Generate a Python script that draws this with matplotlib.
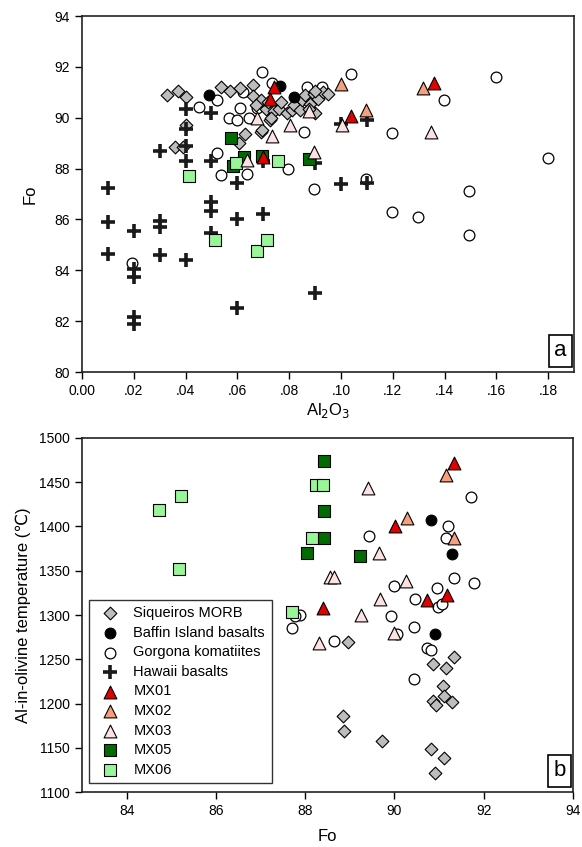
import numpy as np
import matplotlib
matplotlib.use("Agg")
import matplotlib.pyplot as plt

plt.rcParams['font.family'] = ['Liberation Sans', 'DejaVu Sans']

# ---------------- panel a : Al2O3 vs Fo ----------------
siq_al = [0.033, 0.037, 0.040, 0.040, 0.036, 0.039, 0.0535, 0.057, 0.061, 0.066,
          0.066, 0.069, 0.0725, 0.0725, 0.069, 0.063, 0.0605, 0.067, 0.071, 0.072,
          0.074, 0.076, 0.077, 0.079, 0.081, 0.082, 0.084, 0.085, 0.086, 0.088,
          0.0895, 0.091, 0.093, 0.095, 0.090, 0.090, 0.0875, 0.0695, 0.073]
siq_fo_a = [90.9, 91.05, 90.8, 89.7, 88.85, 88.85, 91.2, 91.05, 91.15, 91.3,
            90.85, 90.7, 90.3, 89.9, 89.45, 89.35, 89.0, 90.5, 90.35, 90.6,
            90.25, 90.35, 90.6, 90.2, 90.3, 90.5, 90.3, 90.7, 90.9, 90.55,
            90.95, 90.75, 91.0, 90.95, 90.2, 91.05, 90.35, 89.5, 90.0]

baf_al = [0.049, 0.0766, 0.0818]
baf_fo_a = [90.9, 91.25, 90.8]

gor_al = [0.0695, 0.0733, 0.0523, 0.045, 0.0566, 0.0597, 0.061, 0.0643, 0.0674, 0.062,
          0.0857, 0.0523, 0.0535, 0.0636, 0.0795, 0.0895, 0.0868, 0.0925, 0.0876, 0.1037,
          0.1196, 0.1397, 0.160, 0.180, 0.1096, 0.1496, 0.1196, 0.1296, 0.1496, 0.0194]
gor_fo_a = [91.8, 91.35, 90.7, 90.42, 90.0, 89.93, 90.4, 89.97, 90.4, 91.0,
            89.42, 88.62, 87.75, 87.8, 88.0, 87.2, 91.2, 91.2, 90.8, 91.7,
            89.4, 90.7, 91.6, 88.4, 87.6, 87.1, 86.3, 86.1, 85.4, 84.3]

haw_al = [0.01, 0.01, 0.01, 0.02, 0.02, 0.02, 0.02, 0.02, 0.03, 0.03,
          0.03, 0.04, 0.05, 0.05, 0.05, 0.06, 0.06, 0.07, 0.09, 0.06,
          0.03, 0.04, 0.04, 0.04, 0.04, 0.05, 0.05, 0.07, 0.09, 0.10,
          0.11, 0.11, 0.10]
haw_fo = [87.25, 85.9, 84.65, 85.55, 84.05, 83.75, 82.15, 81.9, 85.95, 85.7,
          84.6, 84.4, 86.7, 86.35, 85.45, 86.0, 82.5, 86.2, 83.1, 87.45,
          88.7, 90.35, 89.55, 88.9, 88.3, 90.2, 88.3, 88.3, 88.2, 87.4,
          87.45, 89.9, 89.75]

mx01_al = [0.074, 0.0725, 0.070, 0.136, 0.104]
mx01_fo_a = [91.2, 90.75, 88.45, 91.35, 90.05]
mx02_al = [0.100, 0.1318, 0.1096]
mx02_fo_a = [91.34, 91.17, 90.31]
mx03_al = [0.0676, 0.0805, 0.0734, 0.0637, 0.0895, 0.0876, 0.1005, 0.1347]
mx03_fo_a = [90.0, 89.73, 89.3, 88.35, 88.65, 90.28, 89.7, 89.43]
mx05_al = [0.0575, 0.0585, 0.0624, 0.0695, 0.0876]
mx05_fo_a = [89.2, 88.1, 88.45, 88.5, 88.37]
mx06_al = [0.0415, 0.0596, 0.0756, 0.0514, 0.0676, 0.0714]
mx06_fo_a = [87.7, 88.2, 88.3, 85.2, 84.75, 85.2]

# ---------------- panel b : Fo vs Al-in-olivine T ----------------
siq_fo_b = [88.96, 90.87, 91.33, 91.16, 91.09, 91.11, 90.87, 90.92, 91.28, 88.85,
            88.86, 89.71, 90.82, 91.11, 90.90]
siq_t = [1269, 1245, 1252, 1240, 1220, 1208, 1203, 1198, 1202, 1186,
         1169, 1158, 1149, 1138, 1122]

baf_fo_b = [90.81, 91.28, 90.90]
baf_t = [1407, 1369, 1279]

gor_fo_b = [91.72, 89.42, 91.20, 91.16, 91.33, 91.78, 89.98, 90.96, 90.45, 90.98,
            91.07, 89.93, 87.89, 90.43, 88.64, 90.06, 90.72, 90.82, 90.43, 87.71, 87.78]
gor_t = [1433, 1389, 1400, 1387, 1342, 1336, 1333, 1331, 1318, 1309,
         1313, 1299, 1300, 1287, 1271, 1279, 1263, 1261, 1228, 1285, 1299]

mx01_fo_b = [91.33, 90.02, 90.73, 91.18, 88.40]
mx01_t = [1472, 1401, 1317, 1323, 1308]
mx02_fo_b = [91.15, 90.27, 91.33]
mx02_t = [1458, 1410, 1387]
mx03_fo_b = [89.41, 89.66, 88.55, 88.65, 90.25, 89.67, 89.26, 88.32, 90.0]
mx03_t = [1443, 1370, 1343, 1343, 1338, 1318, 1300, 1268, 1280]
mx05_fo_b = [88.41, 88.41, 88.41, 88.04, 89.22]
mx05_t = [1474, 1417, 1387, 1370, 1367]
mx06_fo_b = [84.72, 85.21, 85.17, 88.15, 88.24, 88.40, 87.71]
mx06_t = [1419, 1434, 1352, 1387, 1447, 1447, 1303]

# marker styles
st_siq = dict(marker='D', s=42, facecolor='#BDBDBD', edgecolor='black', linewidths=0.8)
st_baf = dict(marker='o', s=60, facecolor='black', edgecolor='black', linewidths=0.8)
st_gor = dict(marker='o', s=60, facecolor='white', edgecolor='black', linewidths=0.9)
st_haw = dict(marker='+', s=110, color='#1a1a1a', linewidths=2.6)
st_mx01 = dict(marker='^', s=85, facecolor='#E00000', edgecolor='black', linewidths=0.8)
st_mx02 = dict(marker='^', s=85, facecolor='#F4A07E', edgecolor='black', linewidths=0.8)
st_mx03 = dict(marker='^', s=85, facecolor='#FCE2E2', edgecolor='black', linewidths=0.8)
st_mx05 = dict(marker='s', s=75, facecolor='#006B00', edgecolor='black', linewidths=0.8)
st_mx06 = dict(marker='s', s=75, facecolor='#98F598', edgecolor='black', linewidths=0.8)

fig = plt.figure(figsize=(5.82, 8.47), dpi=100)
ax1 = fig.add_axes([0.1409, 0.5608, 0.8454, 0.4203])
ax2 = fig.add_axes([0.1409, 0.0649, 0.8437, 0.4180])

# panel a
ax1.scatter(gor_al, gor_fo_a, **st_gor)
ax1.scatter(siq_al, siq_fo_a, **st_siq)
ax1.scatter(baf_al, baf_fo_a, **st_baf)
ax1.scatter(haw_al, haw_fo, **st_haw)
ax1.scatter(mx05_al, mx05_fo_a, **st_mx05)
ax1.scatter(mx06_al, mx06_fo_a, **st_mx06)
ax1.scatter(mx03_al, mx03_fo_a, **st_mx03)
ax1.scatter(mx02_al, mx02_fo_a, **st_mx02)
ax1.scatter(mx01_al, mx01_fo_a, **st_mx01)

ax1.set_xlim(0, 0.19)
ax1.set_ylim(80, 94)
xt = np.arange(0, 0.181, 0.02)
ax1.set_xticks(xt)
ax1.set_xticklabels(['0.00'] + ['.%02d' % round(v * 100) for v in xt[1:]])
ax1.set_yticks(np.arange(80, 95, 2))
ax1.set_xlabel('Al$_2$O$_3$', fontsize=12, labelpad=2)
ax1.set_ylabel('Fo', fontsize=12, labelpad=12)
ax1.text(0.985, 0.03, 'a', transform=ax1.transAxes, ha='right', va='bottom', fontsize=16,
         bbox=dict(boxstyle='square,pad=0.25', facecolor='white', edgecolor='black', linewidth=1.2))

# panel b
ax2.scatter(gor_fo_b, gor_t, label='Gorgona komatiites', **st_gor)
ax2.scatter(siq_fo_b, siq_t, label='Siqueiros MORB', **st_siq)
ax2.scatter(baf_fo_b, baf_t, label='Baffin Island basalts', **st_baf)
ax2.scatter([], [], label='Hawaii basalts', **st_haw)
ax2.scatter(mx05_fo_b, mx05_t, label='MX05', **st_mx05)
ax2.scatter(mx06_fo_b, mx06_t, label='MX06', **st_mx06)
ax2.scatter(mx03_fo_b, mx03_t, label='MX03', **st_mx03)
ax2.scatter(mx02_fo_b, mx02_t, label='MX02', **st_mx02)
ax2.scatter(mx01_fo_b, mx01_t, label='MX01', **st_mx01)

ax2.set_xlim(83, 94)
ax2.set_ylim(1100, 1500)
ax2.set_xticks(np.arange(84, 95, 2))
ax2.set_yticks(np.arange(1100, 1501, 50))
ax2.set_xlabel('Fo', fontsize=12, labelpad=8)
ax2.set_ylabel('Al-in-olivine temperature (\u2103)', fontsize=12, labelpad=6)
ax2.text(0.985, 0.03, 'b', transform=ax2.transAxes, ha='right', va='bottom', fontsize=16,
         bbox=dict(boxstyle='square,pad=0.25', facecolor='white', edgecolor='black', linewidth=1.2))

handles, labels = ax2.get_legend_handles_labels()
order = ['Siqueiros MORB', 'Baffin Island basalts', 'Gorgona komatiites', 'Hawaii basalts',
         'MX01', 'MX02', 'MX03', 'MX05', 'MX06']
hmap = dict(zip(labels, handles))
leg = ax2.legend([hmap[k] for k in order], order, loc='lower left',
                 bbox_to_anchor=(0.014, 0.025), borderaxespad=0, fontsize=10.5,
                 frameon=True, fancybox=False, framealpha=1, edgecolor='#333333',
                 labelspacing=0.38, handletextpad=0.6, borderpad=0.45, scatterpoints=1)
leg.get_frame().set_linewidth(1.0)

for ax in (ax1, ax2):
    ax.tick_params(direction='out', length=5, width=1, labelsize=10, top=False, right=False)
    for sp in ax.spines.values():
        sp.set_linewidth(1.2)
        sp.set_color('#222222')

fig.savefig('out.png', dpi=100)
